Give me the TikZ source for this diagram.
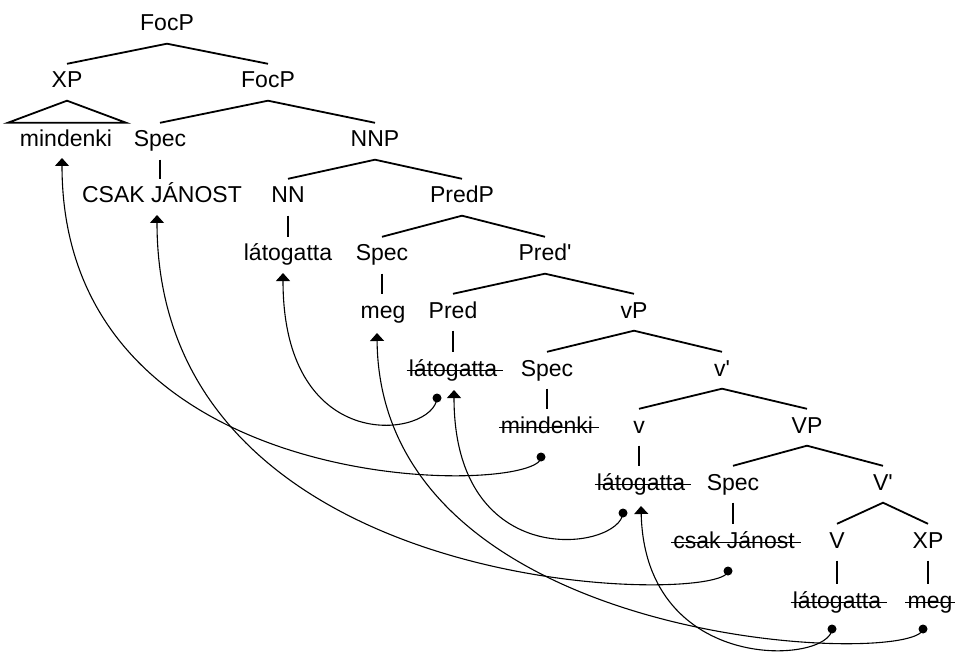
\documentclass[tikz,border=0pt]{standalone}
\usepackage{fontspec}
\setmainfont{Liberation Sans}
\usetikzlibrary{arrows.meta,calc}
\begin{document}
\begin{tikzpicture}[x={(1pt,0pt)},y={(0pt,-1pt)},
  lbl/.style={anchor=base, font=\fontsize{23}{27}\selectfont,
    text height=16.5pt, text depth=5pt, inner xsep=1pt, inner ysep=7.5pt},
  branch/.style={line width=1.8pt},
  strike/.style={line width=1.2pt},
  move/.style={line width=1.1pt, -{Triangle[width=14pt,length=8pt]}},
  trace/.style={radius=4.5pt}
]
\useasboundingbox (0,0) rectangle (955,652);

% labels, placed on their baselines
\node[lbl] (focp1) at (167,31) {FocP};
\node[lbl] (xp1) at (67,88) {XP};
\node[lbl] (focp2) at (268,88) {FocP};
\node[lbl] (mind1) at (66,147) {mindenki};
\node[lbl] (spec1) at (160,147) {Spec};
\node[lbl] (nnp) at (375,147) {NNP};
\node[lbl] (csak1) at (162,203) {CSAK JÁNOST};
\node[lbl] (nn) at (288,203) {NN};
\node[lbl] (predp) at (462,203) {PredP};
\node[lbl] (lat1) at (288,261) {látogatta};
\node[lbl] (spec2) at (382,261) {Spec};
\node[lbl] (predbar) at (545,261) {Pred\textquotesingle};
\node[lbl] (meg1) at (383,318) {meg};
\node[lbl] (pred) at (453,318) {Pred};
\node[lbl] (littlevp) at (634,318) {vP};
\node[lbl] (lat2) at (453,376) {látogatta};
\node[lbl] (spec3) at (547,376) {Spec};
\node[lbl] (littlevbar) at (722,376) {v\textquotesingle};
\node[lbl] (mind2) at (547,433) {mindenki};
\node[lbl] (littlev) at (639,433) {v};
\node[lbl] (bigvp) at (807,433) {VP};
\node[lbl] (lat3) at (641,490) {látogatta};
\node[lbl] (spec4) at (733,490) {Spec};
\node[lbl] (bigvbar) at (883,490) {V\textquotesingle};
\node[lbl] (csak2) at (734,548) {csak Jánost};
\node[lbl] (bigv) at (837,548) {V};
\node[lbl] (xp2) at (928,548) {XP};
\node[lbl] (lat4) at (837,608) {látogatta};
\node[lbl] (meg2) at (930,608) {meg};

% tree branches
\draw[branch] (xp1.north) -- (focp1.south) -- (focp2.north);
\draw[branch] (spec1.north) -- (focp2.south) -- (nnp.north);
\draw[branch] (nn.north) -- (nnp.south) -- (predp.north);
\draw[branch] (spec2.north) -- (predp.south) -- (predbar.north);
\draw[branch] (pred.north) -- (predbar.south) -- (littlevp.north);
\draw[branch] (spec3.north) -- (littlevp.south) -- (littlevbar.north);
\draw[branch] (littlev.north) -- (littlevbar.south) -- (bigvp.north);
\draw[branch] (spec4.north) -- (bigvp.south) -- (bigvbar.north);
\draw[branch] (bigv.north) -- (bigvbar.south) -- (xp2.north);
\draw[branch] (xp1.south) -- ($(mind1.north west)+(-11,0)$)
  -- ($(mind1.north east)+(13,0)$) -- cycle;

% unary branches, kept vertical
\foreach \p/\c in {spec1/csak1, nn/lat1, spec2/meg1, pred/lat2, spec3/mind2,
                   littlev/lat3, spec4/csak2, bigv/lat4, xp2/meg2}
  \draw[branch] (\p.south) -- (\p.south |- \c.north);

% struck-out copies
\foreach \n in {lat2,mind2,lat3,csak2,lat4,meg2}
  \draw[strike] ([xshift=-1pt]\n.west) -- ([xshift=5pt]\n.east);

% landing sites of the moved items
\coordinate (t1) at ($(mind1.base)+(-4,11)$);
\coordinate (t2) at ($(csak1.base)+(-5,12)$);
\coordinate (t3) at ($(lat1.base)+(-5,12)$);
\coordinate (t4) at ($(meg1.base)+(-6,15)$);
\coordinate (t5) at ($(lat2.base)+(1,14)$);
\coordinate (t6) at ($(lat3.base)+(0,16)$);
% traces
\coordinate (d1) at ($(lat2.base)+(-16,22)$);
\coordinate (d2) at ($(mind2.base)+(-6,24)$);
\coordinate (d3) at ($(lat3.base)+(-18,23)$);
\coordinate (d4) at ($(csak2.base)+(-6,23)$);
\coordinate (d5) at ($(lat4.base)+(-5,21)$);
\coordinate (d6) at ($(meg2.base)+(-7,21)$);

\foreach \d in {d1,d2,d3,d4,d5,d6}
  \fill (\d) circle[trace];

% movement arrows
\draw[move] (d1) .. controls +(-3,39) and +(0,187) .. (t3);
\draw[move] (d2) .. controls +(3,38) and +(0,350) .. (t1);
\draw[move] (d3) .. controls +(-3,37) and +(0,185) .. (t5);
\draw[move] (d4) .. controls +(0,34) and +(0,390) .. (t2);
\draw[move] (d5) .. controls +(-2,35) and +(4,170) .. (t6);
\draw[move] (d6) .. controls +(-5,38) and +(3,318) .. (t4);
\end{tikzpicture}
\end{document}
